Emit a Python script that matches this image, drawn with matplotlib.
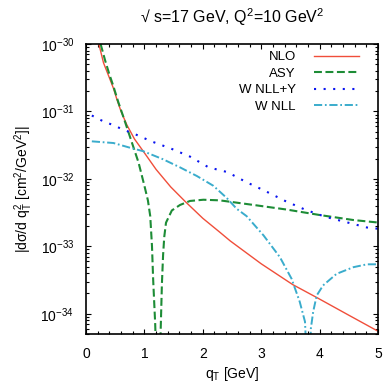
import numpy as np
import matplotlib
matplotlib.use("Agg")
import matplotlib.pyplot as plt
from matplotlib.ticker import FixedLocator, MultipleLocator, LogFormatterSciNotation, NullFormatter

plt.rcParams['font.family'] = ['Liberation Sans', 'DejaVu Sans']
plt.rcParams['mathtext.fontset'] = 'custom'
plt.rcParams['mathtext.rm'] = 'Liberation Sans'
plt.rcParams['mathtext.it'] = 'Liberation Sans:italic'
plt.rcParams['mathtext.default'] = 'regular'

# q_T [GeV] and |dsigma/dq_T^2| [cm^2/GeV^2]
qt_nlo = [0.22, 0.30, 0.40, 0.47, 0.53, 0.60, 0.70, 0.83, 0.98, 1.20, 1.45,
          1.70, 2.00, 2.29, 2.47, 3.00, 3.54, 3.95, 4.50, 5.00]
sig_nlo = [1.0e-30, 5.25e-31, 3.16e-31, 2.2e-31, 1.5e-31, 1.0e-31, 6.3e-32,
           3.9e-32, 2.57e-32, 1.38e-32, 7.6e-33, 4.6e-33, 2.6e-33, 1.62e-33,
           1.2e-33, 5.5e-34, 2.7e-34, 1.74e-34, 9.5e-35, 5.5e-35]

qt_asy = [0.25, 0.33, 0.40, 0.47, 0.55, 0.64, 0.77, 0.90, 1.00, 1.06, 1.10,
          1.13, 1.15, 1.185, 1.22, 1.25, 1.28, 1.30, 1.32, 1.34, 1.37, 1.47,
          1.61, 1.78, 2.01, 2.29, 2.87, 3.44, 4.01, 4.58, 5.00]
sig_asy = [1.0e-30, 5.6e-31, 3.55e-31, 2.35e-31, 1.4e-31, 8.3e-32, 3.8e-32,
           1.74e-32, 7.9e-33, 4.8e-33, 2.8e-33, 1.0e-33, 3.2e-34, 7.0e-35,
           6.0e-36, 6.0e-36, 6.3e-35, 2.8e-34, 7.4e-34, 1.38e-33, 2.24e-33,
           3.4e-33, 4.1e-33, 4.7e-33, 4.9e-33, 4.8e-33, 4.1e-33, 3.5e-33,
           2.9e-33, 2.45e-33, 2.25e-33]

qt_wy = [0.10, 0.30, 0.46, 0.63, 0.79, 1.12, 1.46, 1.78, 2.10, 2.42, 2.75,
         3.07, 3.41, 3.75, 4.09, 4.81, 5.00]
sig_wy = [8.7e-32, 7.1e-32, 6.3e-32, 5.4e-32, 4.8e-32, 3.6e-32, 2.8e-32,
          2.14e-32, 1.48e-32, 1.26e-32, 8.9e-33, 6.6e-33, 4.7e-33, 3.5e-33,
          2.75e-33, 1.9e-33, 1.82e-33]

qt_w = [0.10, 0.47, 0.75, 0.98, 1.32, 1.61, 1.90, 2.18, 2.41, 2.58, 2.75,
        3.04, 3.32, 3.52, 3.66, 3.75, 3.81, 3.85, 3.89, 3.95, 4.06, 4.29,
        4.58, 4.81, 5.00]
sig_w = [3.6e-32, 3.4e-32, 2.9e-32, 2.57e-32, 1.95e-32, 1.48e-32, 1.1e-32,
         7.9e-33, 5.2e-33, 3.6e-33, 2.8e-33, 1.45e-33, 6.9e-34, 3.3e-34,
         1.5e-34, 7.6e-35, 5.0e-36, 6.0e-35, 1.07e-34, 1.86e-34, 2.63e-34,
         3.9e-34, 4.9e-34, 5.4e-34, 5.4e-34]

y_major = [1e-34, 1e-33, 1e-32, 1e-31, 1e-30]
y_minor = [m * 10.0**e for e in range(-35, -30) for m in range(2, 10)
           if 5e-35 <= m * 10.0**e <= 1e-30]

fig = plt.figure(figsize=(3.84, 3.85), dpi=100)
ax = fig.add_axes([86/384, 1-334/385, 292/384, 290/385])

ax.plot(qt_nlo, sig_nlo, color='#f04e3a', lw=1.0, label='NLO')
ax.plot(qt_asy, sig_asy, color='#1d8c36', lw=1.5, ls=(0, (3.8, 1.7)), label='ASY')
ax.plot(qt_wy, sig_wy, color='#0a14f0', lw=1.5, ls=(0, (1, 3.6)), label='W NLL+Y')
ax.plot(qt_w, sig_w, color='#3aaccc', lw=1.4, ls=(0, (4.2, 1.4, 0.9, 1.4)), label='W NLL')

ax.set_yscale('log')
ax.set_xlim(0, 5)
ax.set_ylim(5e-35, 1e-30)

ax.xaxis.set_major_locator(MultipleLocator(1))
ax.xaxis.set_minor_locator(MultipleLocator(0.2))
ax.yaxis.set_major_locator(FixedLocator(y_major))
ax.yaxis.set_minor_locator(FixedLocator(y_minor))
ax.yaxis.set_minor_formatter(NullFormatter())
ax.yaxis.set_major_formatter(LogFormatterSciNotation())

ax.tick_params(which='both', direction='in', top=True, right=True, labelsize=10,
               width=0.8, colors='black')
ax.tick_params(which='major', length=3.6)
ax.tick_params(which='minor', length=2.2)
ax.tick_params(axis='x', which='major', pad=9)
ax.tick_params(axis='y', which='major', pad=8.5)
for sp in ax.spines.values():
    sp.set_linewidth(1.2)

ax.set_xlabel('q$_T$ [GeV]', fontsize=10)
ax.xaxis.set_label_coords(0.5, (334 - 365) / 290)
ax.set_ylabel('|dσ/d q$_T^2$ [cm$^2$/GeV$^2$]|', fontsize=10)
ax.yaxis.set_label_coords((35 - 86) / 292, 0.5)

fig.text(232/384, 1-17/385, '√ s=17 GeV, Q$^2$=10 GeV$^2$', fontsize=11.5,
         ha='center', va='center')

leg = ax.legend(loc='upper right', bbox_to_anchor=(359/384, 1-51/385),
                bbox_transform=fig.transFigure, frameon=False, markerfirst=False,
                fontsize=9.5, handlelength=3.4, handletextpad=1.4,
                labelspacing=0.32, borderpad=0, borderaxespad=0)

fig.savefig('out.png', dpi=100)
